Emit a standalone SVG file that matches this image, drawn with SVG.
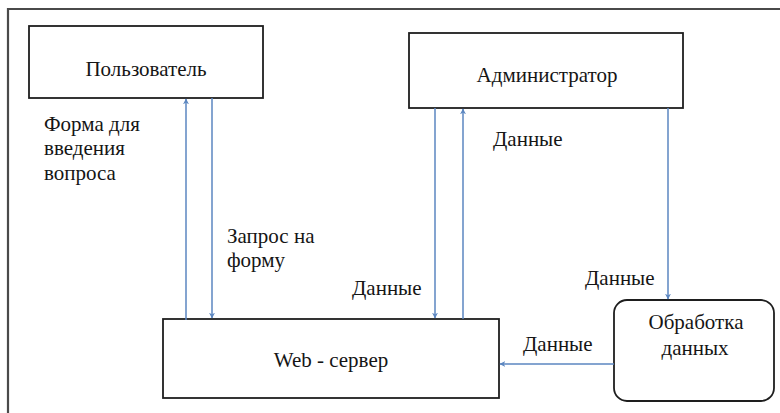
<svg xmlns="http://www.w3.org/2000/svg" width="780" height="413" viewBox="0 0 780 413">
  <style>
    .box { fill: #ffffff; stroke: #1e1e1e; stroke-width: 1.8; }
    .frame { fill: none; stroke: #4a4a4a; stroke-width: 2.2; }
    .flow { fill: none; stroke: #5b86c0; stroke-width: 1.5; }
    .t { font-family: 'Liberation Serif', 'Times New Roman', serif; font-size: 21px; fill: #151515; }
    .c { text-anchor: middle; }
  </style>
  <defs>
    <marker id="arrow" viewBox="0 0 10 10" refX="9" refY="5" markerWidth="6" markerHeight="6" orient="auto" markerUnits="userSpaceOnUse">
      <path d="M0,0 L10,5 L0,10 L3,5 z" fill="#5b86c0"/>
    </marker>
  </defs>

  <rect width="780" height="413" fill="#ffffff"/>
  <!-- outer frame (open to the right and bottom) -->
  <path class="frame" d="M8,413 V9 H780"/>

  <g id="user">
    <rect class="box" x="29" y="26" width="234" height="72"/>
    <text class="t c" x="146" y="76">Пользователь</text>
  </g>

  <g id="admin">
    <rect class="box" x="409" y="33" width="274" height="75"/>
    <text class="t c" x="547" y="82">Администратор</text>
  </g>

  <g id="webserver">
    <rect class="box" x="163" y="319" width="336" height="79"/>
    <text class="t c" x="331" y="367">Web - сервер</text>
  </g>

  <g id="processing">
    <rect class="box" x="614" y="300" width="160" height="101" rx="13" ry="13"/>
    <text class="t c" x="696" y="329">Обработка</text>
    <text class="t c" x="695" y="355">данных</text>
  </g>

  <g id="connectors">
    <!-- web server -> user -->
    <path class="flow" d="M186,320 V99" marker-end="url(#arrow)"/>
    <!-- user -> web server -->
    <path class="flow" d="M212,98 V318" marker-end="url(#arrow)"/>
    <!-- admin -> web server -->
    <path class="flow" d="M435,108 V318" marker-end="url(#arrow)"/>
    <!-- web server -> admin -->
    <path class="flow" d="M463,319 V109" marker-end="url(#arrow)"/>
    <!-- admin -> processing -->
    <path class="flow" d="M668,108 V299" marker-end="url(#arrow)"/>
    <!-- processing -> web server -->
    <path class="flow" d="M614,364 H500" marker-end="url(#arrow)"/>
  </g>

  <g id="labels">
    <text class="t" x="44" y="131">Форма для</text>
    <text class="t" x="44" y="155">введения</text>
    <text class="t" x="44" y="180">вопроса</text>
    <text class="t" x="227" y="243">Запрос на</text>
    <text class="t" x="227" y="267">форму</text>
    <text class="t" x="493" y="146">Данные</text>
    <text class="t" x="352" y="295">Данные</text>
    <text class="t" x="585" y="285">Данные</text>
    <text class="t" x="523" y="351">Данные</text>
  </g>
</svg>
